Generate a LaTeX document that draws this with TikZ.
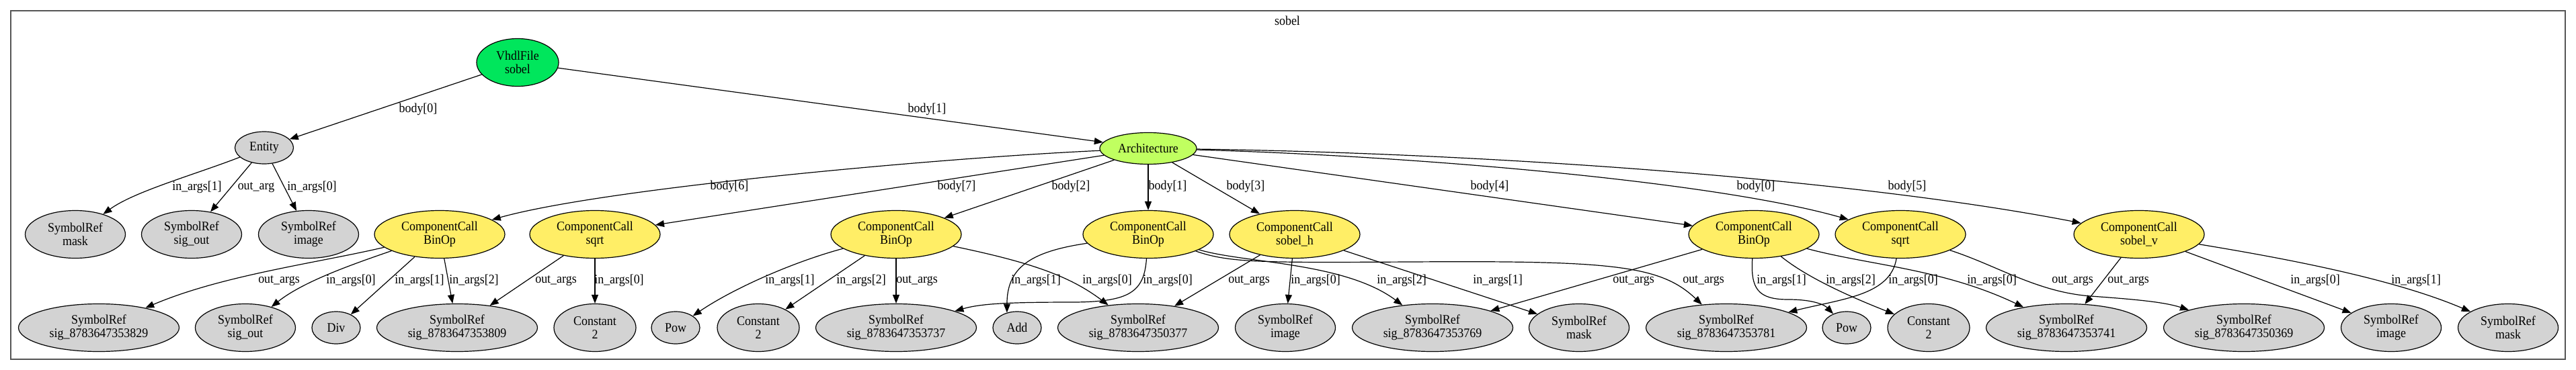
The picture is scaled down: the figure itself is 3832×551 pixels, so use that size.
\documentclass[tikz,border=0pt]{standalone}
\usepackage{fontspec}
\setmainfont{Liberation Serif}[FakeStretch=0.92]
\usetikzlibrary{shapes.geometric,arrows.meta}
\definecolor{vfgreen}{HTML}{00E65C}
\definecolor{archgreen}{HTML}{C0FF60}
\definecolor{ccyellow}{HTML}{FFEE66}
\definecolor{symgray}{HTML}{D3D3D3}
\definecolor{framegray}{HTML}{555555}
\tikzset{
  nd/.style={ellipse, draw=black, line width=1.2pt, inner sep=0pt, align=center, font=\fontsize{19.5}{20}\selectfont},
  sym/.style={nd, fill=symgray, minimum width=149pt, minimum height=71pt},
  symlong/.style={nd, fill=symgray, minimum width=239pt, minimum height=71pt},
  cc/.style={nd, fill=ccyellow, minimum width=194pt, minimum height=71pt},
  cst/.style={nd, fill=symgray, minimum width=122pt, minimum height=71pt},
  opnode/.style={nd, fill=symgray, minimum width=72pt, minimum height=48pt},
  conn/.style={draw=black, line width=1.2pt, -{Triangle[length=13pt,width=10pt]}},
  lbl/.style={inner sep=0pt, font=\fontsize{19.5}{20}\selectfont},
  framebox/.style={draw=framegray, line width=1.6pt}
}
\begin{document}
\begin{tikzpicture}[x=1pt,y=-1pt]
\useasboundingbox (0,0) rectangle (3832,551);
\draw[framebox] (16,16) rectangle (3816,535);
\node[lbl] (title) at (1915,31) {sobel};

% top-level nodes
\node[nd, fill=vfgreen, minimum width=122pt, minimum height=71pt] (vf) at (770,93) {VhdlFile\\sobel};
\node[nd, fill=symgray, minimum width=87pt, minimum height=48pt] (ent) at (393,220) {Entity};
\node[nd, fill=archgreen, minimum width=144pt, minimum height=47pt] (arch) at (1708,221) {Architecture};

% middle row
\node[sym] (emask) at (112,349) {SymbolRef\\mask};
\node[sym] (eout) at (285,349) {SymbolRef\\sig\_out};
\node[sym] (eimg) at (459,349) {SymbolRef\\image};
\node[cc] (ccA) at (654,349) {ComponentCall\\BinOp};
\node[cc] (ccB) at (885,349) {ComponentCall\\sqrt};
\node[cc] (ccC) at (1333,349) {ComponentCall\\BinOp};
\node[cc] (ccD) at (1708,349) {ComponentCall\\BinOp};
\node[cc] (ccE) at (1926,349) {ComponentCall\\sobel\_h};
\node[cc] (ccF) at (2609,349) {ComponentCall\\BinOp};
\node[cc] (ccG) at (2827,349) {ComponentCall\\sqrt};
\node[cc] (ccH) at (3182,349) {ComponentCall\\sobel\_v};

% bottom row
\node[symlong] (s829) at (147,488) {SymbolRef\\sig\_8783647353829};
\node[sym] (soutB) at (365,488) {SymbolRef\\sig\_out};
\node[opnode] (div) at (500,488) {Div};
\node[symlong] (s809) at (680,488) {SymbolRef\\sig\_8783647353809};
\node[cst] (cstA) at (885,488) {Constant\\2};
\node[opnode] (powA) at (1005,488) {Pow};
\node[cst] (cstB) at (1128,488) {Constant\\2};
\node[symlong] (s737) at (1333,488) {SymbolRef\\sig\_8783647353737};
\node[opnode] (add) at (1513,488) {Add};
\node[symlong] (s377) at (1693,488) {SymbolRef\\sig\_8783647350377};
\node[sym] (imgB) at (1912,488) {SymbolRef\\image};
\node[symlong] (s769) at (2131,488) {SymbolRef\\sig\_8783647353769};
\node[sym] (maskB) at (2349,488) {SymbolRef\\mask};
\node[symlong] (s781) at (2568,488) {SymbolRef\\sig\_8783647353781};
\node[opnode] (powB) at (2747,488) {Pow};
\node[cst] (cstC) at (2869,488) {Constant\\2};
\node[symlong] (s741) at (3074,488) {SymbolRef\\sig\_8783647353741};
\node[symlong] (s369) at (3338,488) {SymbolRef\\sig\_8783647350369};
\node[sym] (imgC) at (3557,488) {SymbolRef\\image};
\node[sym] (maskC) at (3731,488) {SymbolRef\\mask};

% edges from VhdlFile
\draw[conn] (vf) -- (ent);
\draw[conn] (vf) -- (arch);
\node[lbl] (l1) at (622,163) {body[0]};
\node[lbl] (l2) at (1379,163) {body[1]};

% Entity
\draw[conn] (ent) .. controls (290,260) and (200,285) .. (emask);
\draw[conn] (ent) -- (eout);
\draw[conn] (ent) -- (eimg);
\node[lbl] (l3) at (293,279) {in\_args[1]};
\node[lbl] (l4) at (381,279) {out\_arg};
\node[lbl] (l5) at (464,279) {in\_args[0]};

% Architecture
\draw[conn] (arch) .. controls (1400,235) and (900,280) .. (ccA);
\draw[conn] (arch) -- (ccB);
\draw[conn] (arch) -- (ccC);
\draw[conn] (arch) -- (ccD);
\draw[conn] (arch) -- (ccE);
\draw[conn] (arch) -- (ccF);
\draw[conn] (arch) .. controls (2100,232) and (2550,270) .. (ccG);
\draw[conn] (arch) .. controls (2200,228) and (2750,265) .. (ccH);
\node[lbl] (l6) at (1085,278) {body[6]};
\node[lbl] (l7) at (1423,278) {body[7]};
\node[lbl] (l8) at (1593,278) {body[2]};
\node[lbl] (l9) at (1737,278) {body[1]};
\node[lbl] (l10) at (1853,278) {body[3]};
\node[lbl] (l11) at (2216,278) {body[4]};
\node[lbl] (l12) at (2612,278) {body[0]};
\node[lbl] (l13) at (2837,278) {body[5]};

% ccA
\draw[conn] (ccA) .. controls (470,392) and (330,410) .. (s829);
\draw[conn] (ccA) .. controls (520,395) and (450,420) .. (soutB);
\draw[conn] (ccA) -- (div);
\draw[conn] (ccA) -- (s809);
\node[lbl] (l14) at (415,418) {out\_args};
\node[lbl] (l15) at (522,418) {in\_args[0]};
\node[lbl] (l16) at (624,418) {in\_args[1]};
\node[lbl] (l17) at (705,418) {in\_args[2]};

% ccB
\draw[conn] (ccB) -- (s809);
\draw[conn] (ccB) -- (cstA);
\node[lbl] (l18) at (827,418) {out\_args};
\node[lbl] (l19) at (921,418) {in\_args[0]};

% ccC
\draw[conn] (ccC) .. controls (1180,390) and (1090,430) .. (powA);
\draw[conn] (ccC) -- (cstB);
\draw[conn] (ccC) -- (s737);
\draw[conn] (ccC) .. controls (1530,390) and (1590,410) .. (s377);
\node[lbl] (l20) at (1175,418) {in\_args[1]};
\node[lbl] (l21) at (1281,418) {in\_args[2]};
\node[lbl] (l22) at (1364,418) {out\_args};
\node[lbl] (l23) at (1647,418) {in\_args[0]};

% ccD
\draw[conn] (ccD) .. controls (1530,375) and (1498,400) .. (add.124);
\draw[conn] (ccD) .. controls (1702,435) and (1680,449) .. (1600,450) .. controls (1500,450) and (1460,452) .. (s737);
\draw[conn] (ccD) .. controls (1850,392) and (2000,390) .. (s769);
\draw[conn] (ccD) .. controls (1830,392) and (1880,391) .. (2100,390) .. controls (2400,388) and (2470,395) .. (s781);
\node[lbl] (l24) at (1541,418) {in\_args[1]};
\node[lbl] (l25) at (1737,418) {in\_args[0]};
\node[lbl] (l26) at (2085,418) {in\_args[2]};
\node[lbl] (l27) at (2534,418) {out\_args};

% ccE
\draw[conn] (ccE) -- (s377);
\draw[conn] (ccE) -- (imgB);
\draw[conn] (ccE) -- (maskB);
\node[lbl] (l28) at (1858,418) {out\_args};
\node[lbl] (l29) at (1957,418) {in\_args[0]};
\node[lbl] (l30) at (2228,418) {in\_args[1]};

% ccF
\draw[conn] (ccF) -- (s769);
\draw[conn] (ccF) .. controls (2604,430) and (2615,446) .. (2660,446) .. controls (2700,446) and (2715,455) .. (powB);
\draw[conn] (ccF) .. controls (2690,415) and (2760,445) .. (cstC);
\draw[conn] (ccF) .. controls (2780,395) and (2890,400) .. (s741);
\node[lbl] (l31) at (2430,418) {out\_args};
\node[lbl] (l32) at (2650,418) {in\_args[1]};
\node[lbl] (l33) at (2753,418) {in\_args[2]};
\node[lbl] (l34) at (2963,418) {in\_args[0]};

% ccG
\draw[conn] (ccG) .. controls (2812,440) and (2740,445) .. (s781);
\draw[conn] (ccG) .. controls (2970,395) and (3030,435) .. (3110,441) .. controls (3180,446) and (3220,450) .. (s369);
\node[lbl] (l35) at (2846,418) {in\_args[0]};
\node[lbl] (l36) at (3083,418) {out\_args};

% ccH
\draw[conn] (ccH) -- (s741);
\draw[conn] (ccH) -- (imgC);
\draw[conn] (ccH) .. controls (3400,385) and (3560,415) .. (maskC);
\node[lbl] (l37) at (3166,418) {out\_args};
\node[lbl] (l38) at (3444,418) {in\_args[0]};
\node[lbl] (l39) at (3594,418) {in\_args[1]};
\end{tikzpicture}
\end{document}
